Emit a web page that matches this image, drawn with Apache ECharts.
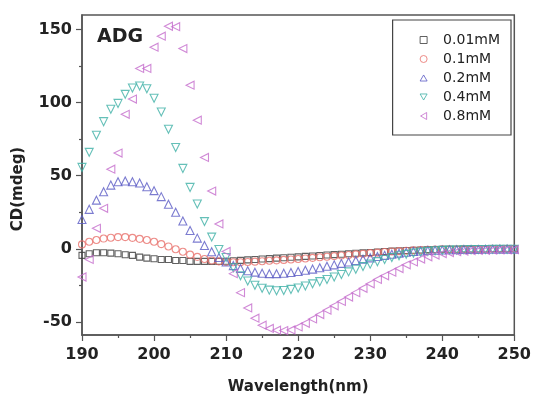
<!DOCTYPE html>
<html>
<head>
<meta charset="utf-8">
<script src="https://cdn.jsdelivr.net/npm/echarts@6/dist/echarts.min.js"></script>
<style>html,body{margin:0;padding:0;background:#fff;}#c{width:534px;height:400px;}</style>
</head>
<body>
<div id="c"></div>
<script>
var wavelengths = [190,191,192,193,194,195,196,197,198,199,200,201,202,203,204,205,206,207,208,209,210,211,212,213,214,215,216,217,218,219,220,221,222,223,224,225,226,227,228,229,230,231,232,233,234,235,236,237,238,239,240,241,242,243,244,245,246,247,248,249,250];
var seriesNames = ['0.01mM','0.1mM','0.2mM','0.4mM','0.8mM'];
var yTickLabels = [-50,0,50,100,150];
var yMinorTicks = [-25,25,75,125];
var c001 = [-4.5,-3.4,-2.7,-2.7,-3.0,-3.4,-4.1,-4.5,-5.7,-6.4,-6.8,-7.3,-7.3,-8.0,-8.0,-8.6,-8.6,-8.6,-8.6,-8.6,-8.5,-8.2,-7.9,-7.6,-7.3,-7.0,-6.7,-6.4,-6.1,-5.8,-5.5,-5.2,-4.9,-4.6,-4.3,-4.0,-3.7,-3.4,-3.1,-2.8,-2.5,-2.2,-1.9,-1.6,-1.4,-1.2,-1.0,-0.8,-0.6,-0.5,-0.4,-0.3,-0.3,-0.2,-0.2,-0.1,-0.1,0,0,0,0];
var c01 = [3.0,4.8,6.0,7.0,7.6,8.0,8.0,7.5,6.8,6.0,4.8,3.2,1.6,-0.3,-2.0,-4.0,-5.5,-7.0,-8.0,-8.6,-9.0,-9.2,-9.2,-9.0,-8.8,-8.5,-8.2,-7.9,-7.6,-7.3,-7.0,-6.6,-6.2,-5.8,-5.4,-5.0,-4.6,-4.2,-3.8,-3.4,-3.0,-2.6,-2.2,-1.9,-1.6,-1.3,-1.1,-0.9,-0.7,-0.5,-0.4,-0.3,-0.3,-0.2,-0.2,-0.1,-0.1,0,0,0,0];
var c02 = [20.0,27.0,33.3,39.0,43.6,45.9,46.4,45.9,45.0,42.5,39.8,35.7,30.5,25.0,19.0,12.5,7.3,2.3,-2.0,-6.0,-9.0,-11.5,-13.5,-15.0,-16.0,-16.7,-17.0,-17.0,-16.7,-16.2,-15.5,-14.7,-13.9,-13.0,-12.0,-11.0,-10.0,-9.0,-8.0,-7.1,-6.2,-5.3,-4.5,-3.7,-3.0,-2.4,-1.9,-1.5,-1.2,-1.0,-0.8,-0.7,-0.6,-0.5,-0.4,-0.4,-0.3,-0.3,-0.2,-0.2,-0.2];
var c04 = [55.7,66.0,77.7,87.0,95.5,99.5,105.7,110.0,111.4,109.5,103.0,93.6,81.8,69.3,55.0,42.0,30.7,18.6,8.0,-0.5,-6.0,-13.0,-18.5,-22.0,-25.0,-27.0,-28.3,-28.7,-28.5,-27.8,-26.8,-25.5,-24.0,-22.5,-21.0,-19.3,-17.6,-15.8,-14.0,-12.2,-10.5,-8.8,-7.3,-6.0,-4.8,-3.8,-3.0,-2.3,-1.8,-1.4,-1.1,-0.9,-0.8,-0.7,-0.6,-0.5,-0.5,-0.4,-0.4,-0.3,-0.3];
var c08 = [-19.3,-7.3,14.0,27.7,54.5,65.5,92.0,102.5,123.4,123.4,138.0,145.5,152.3,152.0,137.0,112.0,88.0,62.5,39.5,17.0,-1.8,-17.0,-30.0,-40.5,-47.5,-52.3,-54.5,-55.7,-56.0,-55.5,-53.5,-51.0,-48.0,-45.0,-42.0,-39.0,-36.0,-33.0,-30.0,-27.0,-24.0,-21.0,-18.5,-16.0,-13.5,-11.0,-9.0,-7.0,-5.5,-4.3,-3.3,-2.6,-2.0,-1.6,-1.3,-1.1,-1.0,-0.9,-0.8,-0.7,-0.6];

var allValues = [c001, c01, c02, c04, c08];
var colors = ['#3a3a3a', '#e8706c', '#5a5ac4', '#3fb0a6', '#c46ccc'];
var symbols = ['rect', 'circle', 'triangle', 'triangle', 'triangle'];
var rotations = [0, 0, 0, 180, 90];
var sizes = [6, 7, 8, 8, 8];
var legendIcons = ['rect', 'circle', 'path://M5,0L10,8.66L0,8.66Z', 'path://M0,0L10,0L5,8.66Z', 'path://M8.66,0L8.66,10L0,5Z'];

function pairs(vals) {
  return wavelengths.map(function (w, i) { return [w, vals[i]]; });
}

var series = allValues.map(function (vals, k) {
  return {
    name: seriesNames[k],
    type: 'scatter',
    data: pairs(vals),
    symbol: symbols[k],
    symbolRotate: rotations[k],
    symbolSize: sizes[k],
    itemStyle: { color: 'rgba(255,255,255,0)', borderColor: colors[k], borderWidth: 1.1 },
    emphasis: { disabled: true },
    z: 2 + k
  };
});

var legendData = seriesNames.map(function (n, k) {
  return { name: n, icon: legendIcons[k], itemStyle: { color: 'rgba(255,255,255,0)', borderColor: colors[k], borderWidth: 1 } };
});

var axisColor = '#555';
var labelFont = { fontFamily: 'DejaVu Sans', fontWeight: 'bold', fontSize: 16, color: '#222' };
var chart = echarts.init(document.getElementById('c'), null, { renderer: 'canvas' });
chart.setOption({
  animation: false,
  backgroundColor: '#fff',
  title: {
    text: 'ADG', left: 97, top: 28, padding: 0,
    textStyle: { fontFamily: 'DejaVu Sans', fontWeight: 'bold', fontSize: 19, color: '#222' }
  },
  grid: { left: 82, right: 17, top: 15, bottom: 63, show: true, borderColor: axisColor, borderWidth: 1.5, backgroundColor: 'transparent' },
  legend: {
    orient: 'vertical',
    right: 23,
    top: 20,
    padding: [13, 11, 12, 27],
    itemWidth: 7,
    itemHeight: 7,
    itemGap: 5,
    borderColor: '#444',
    borderWidth: 1.2,
    data: legendData,
    textStyle: { fontFamily: 'DejaVu Sans', fontSize: 14, color: '#222', lineHeight: 14, padding: [0, 0, 0, 11] }
  },
  xAxis: {
    type: 'value',
    min: 190, max: 250, interval: 10,
    name: 'Wavelength(nm)',
    nameLocation: 'middle',
    nameGap: 45,
    nameTextStyle: { fontFamily: 'DejaVu Sans', fontWeight: 'bold', fontSize: 15, color: '#222' },
    axisLine: { show: true, onZero: false, lineStyle: { color: axisColor, width: 1.5 } },
    axisTick: { show: true, inside: false, length: 6, lineStyle: { color: axisColor, width: 1.2 } },
    minorTick: { show: true, splitNumber: 2, length: 3, lineStyle: { color: axisColor, width: 1.2 } },
    axisLabel: Object.assign({ margin: 12 }, labelFont),
    splitLine: { show: false }
  },
  yAxis: [{
    type: 'value',
    min: -59, max: 160,
    name: 'CD(mdeg)',
    nameLocation: 'middle',
    nameGap: 56,
    nameRotate: 90,
    nameTextStyle: { fontFamily: 'DejaVu Sans', fontWeight: 'bold', fontSize: 15, color: '#222', padding: [0, 28, 0, 0] },
    axisLine: { show: true, onZero: false, lineStyle: { color: axisColor, width: 1.5 } },
    axisTick: { show: true, inside: false, length: 6, customValues: yTickLabels, lineStyle: { color: axisColor, width: 1.2 } },
    axisLabel: Object.assign({ margin: 10, customValues: yTickLabels }, labelFont),
    splitLine: { show: false }
  }, {
    type: 'value',
    min: -59, max: 160,
    position: 'left',
    axisLine: { show: false, onZero: false },
    axisTick: { show: true, inside: false, length: 3, customValues: yMinorTicks, lineStyle: { color: axisColor, width: 1.2 } },
    axisLabel: { show: false },
    splitLine: { show: false }
  }],
  series: series
});
</script>
</body>
</html>
